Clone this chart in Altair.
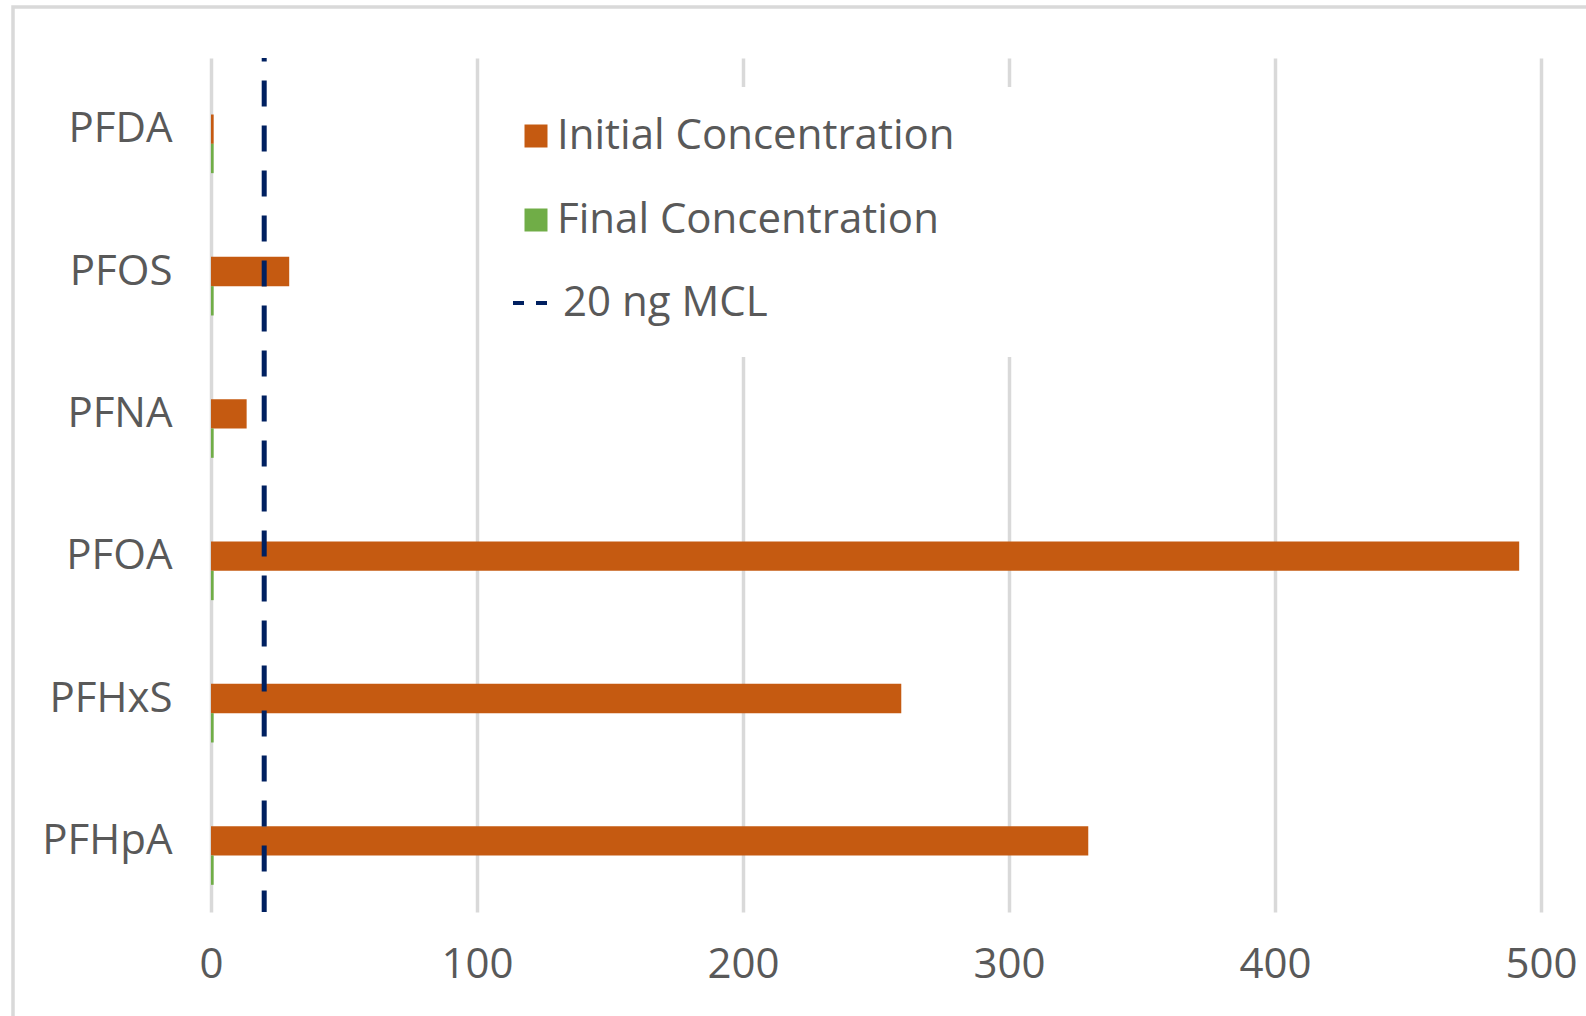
import altair as alt
import pandas as pd

# Compounds, top to bottom
compounds = ["PFDA", "PFOS", "PFNA", "PFOA", "PFHxS", "PFHpA"]
# Concentrations (ng/L)
initial_conc = [1.0, 29.4, 13.4, 491.8, 259.5, 329.8]
final_conc = [1.0, 1.0, 1.0, 1.0, 1.0, 1.0]
mcl_value = 20

series_names = ["Initial Concentration", "Final Concentration"]
series_colors = ["#C55A11", "#70AD47"]
mcl_name = "20 ng MCL"
mcl_color = "#002060"
x_ticks = [0, 100, 200, 300, 400, 500]

FONT = "Open Sans"
FONT_SIZE = 42
FONT_WEIGHT = 500
TEXT_GREY = "#595959"
GRID_GREY = "#D9D9D9"

bars_df = pd.DataFrame({
    "compound": compounds * 2,
    "series": [series_names[0]] * len(compounds) + [series_names[1]] * len(compounds),
    "value": initial_conc + final_conc,
})
mcl_df = pd.DataFrame({"series": [mcl_name], "value": [mcl_value]})

PLOT_W, PLOT_H = 1330, 854
LEG_PAD = 24

label_style = dict(
    labelFont=FONT,
    labelFontSize=FONT_SIZE,
    labelFontWeight=FONT_WEIGHT,
    labelColor=TEXT_GREY,
    labelLimit=2000,
)

# Legend for the two bar series
bar_legend = alt.Legend(
    title=None,
    orient="none",
    legendX=304 - LEG_PAD,
    legendY=33,
    padding=LEG_PAD,
    labelOffset=0,
    rowPadding=42,
    symbolSize=529,
    symbolType="square",
    symbolStrokeWidth=0,
    **label_style,
)

# Legend for the MCL reference line
mcl_legend = alt.Legend(
    title=None,
    orient="none",
    legendX=298 - LEG_PAD,
    legendY=200,
    padding=LEG_PAD,
    labelOffset=12,
    symbolType="stroke",
    symbolSize=1156,
    symbolStrokeWidth=4,
    symbolDash=[11, 12],
    symbolDashOffset=0,
    **label_style,
)

axis_text = dict(
    labelFont=FONT,
    labelFontSize=FONT_SIZE,
    labelFontWeight=FONT_WEIGHT,
    labelColor=TEXT_GREY,
)

x_enc = alt.X(
    "value:Q",
    scale=alt.Scale(domain=[0, 500], nice=False),
    axis=alt.Axis(
        values=x_ticks,
        title=None,
        grid=True,
        gridColor=GRID_GREY,
        gridWidth=3.5,
        domain=False,
        ticks=False,
        labelFlush=False,
        labelPadding=32,
        **axis_text,
    ),
)

# Outer chart frame
frame = alt.Chart(mcl_df).mark_rect(
    fill="transparent", stroke=GRID_GREY, strokeWidth=3.5
).encode(
    x=alt.value(-198), x2=alt.value(PLOT_W + 200),
    y=alt.value(-51), y2=alt.value(PLOT_H + 200),
)

# White legend panel, covering the grid behind the legend entries
legend_panel = alt.Chart(mcl_df).mark_rect(fill="white", strokeWidth=0).encode(
    x=alt.value(284), x2=alt.value(819),
    y=alt.value(29), y2=alt.value(299),
)

bars = alt.Chart(bars_df).mark_bar().encode(
    y=alt.Y(
        "compound:N",
        sort=compounds,
        scale=alt.Scale(paddingInner=0.382, paddingOuter=0.191),
        axis=alt.Axis(
            title=None,
            domain=False,
            ticks=False,
            grid=False,
            labelPadding=39,
            **axis_text,
        ),
    ),
    # first slot of each group is left empty
    yOffset=alt.YOffset(
        "series:N",
        scale=alt.Scale(
            domain=[mcl_name, series_names[0], series_names[1]],
            paddingInner=0, paddingOuter=0,
        ),
    ),
    x=x_enc,
    color=alt.Color(
        "series:N",
        scale=alt.Scale(domain=series_names, range=series_colors),
        legend=bar_legend,
    ),
)

mcl_rule = alt.Chart(mcl_df).mark_rule(
    strokeWidth=5, strokeDash=[26, 19], strokeDashOffset=22.6
).encode(
    x=alt.X("value:Q"),
    color=alt.Color(
        "series:N",
        scale=alt.Scale(domain=[mcl_name], range=[mcl_color]),
        legend=mcl_legend,
    ),
)

chart = alt.layer(frame, legend_panel, bars, mcl_rule).resolve_scale(
    color="independent"
).properties(
    width=PLOT_W,
    height=PLOT_H,
    autosize=alt.AutoSizeParams(type="none"),
    padding={"left": 211, "top": 58, "right": 45, "bottom": 104},
    background="white",
).configure_view(stroke=None)

chart.save("out.html", embed_options={"renderer": "svg", "actions": False})
